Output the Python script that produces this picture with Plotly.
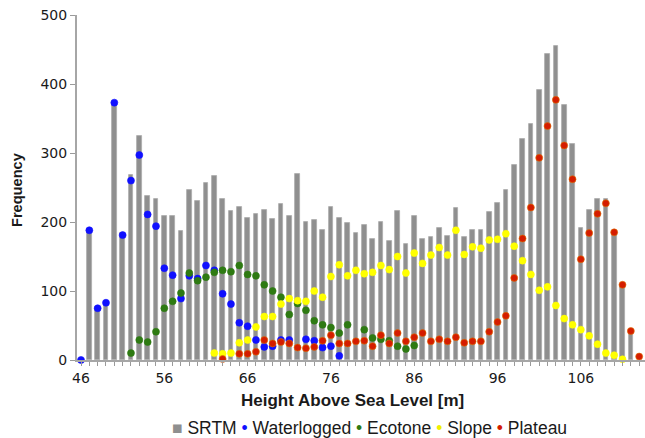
import plotly.graph_objects as go

# ---- data ----
heights = list(range(46, 114))

srtm = [None, 190, 77, 85, 372, 184, 268, 325, 237, 234,
        209, 209, 187, 247, 231, 256, 266, 234, 216, 222,
        206, 211, 217, 204, 226, 209, 270, 200, 203, 188,
        222, 206, 198, 184, 196, 176, 200, 173, 216, 168,
        208, 176, 178, 192, 180, 220, 178, 188, 188, 214,
        228, 246, 283, 320, 342, 392, 443, 455, 370, 313,
        192, 217, 234, 234, 186, 109, 42, None]

waterlogged = [0, 188, 75, 83, 373, 181, 260, 297, 211, 194,
               133, 123, 89, 122, 118, 137, 130, 96, 81, 54,
               49, 29, 19, 20, 29, 29, None, 30, 28, 18,
               20, 6] + [None] * 36

ecotone = [None] * 6 + [10, 29, 26, 41,
           75, 85, 97, 126, 115, 120, 127, 130, 128, 137,
           124, 122, 109, 100, 91, 66, 82, 72, 57, 51,
           47, 39, 51, None, 44, 32, 30, 28, 20, 16,
           21] + [None] * 27

slope = [None] * 16 + [10, 9, 10, 25,
         29, 48, 63, 63, 81, 89, 86, 85, 100, 91,
         121, 138, 122, 130, 125, 127, 137, 131, 150, 126,
         155, 140, 152, 163, 152, 188, 153, 164, 162, 174,
         175, 183, 165, 144, 124, 101, 106, 79, 60, 51,
         44, 35, 23, 10, 7, 1, None, None]

plateau = [None] * 17 + [1.5, None, 9,
           9, 12, 29, 24, 26, 24, 18, 17, 19, 28,
           36, 24, 24, 27, 28, 20, 36, 24, 39, 27,
           33, 39, 27, 30, 27, 33, 25, 27, 27, 41,
           55, 64, 119, 176, 221, 293, 339, 377, 311, 262,
           146, 184, 212, 227, 185, 109, 42, 5]

tick_labels = [str(h) if (h - 46) % 10 == 0 else "" for h in heights]

series = [
    ("Waterlogged", waterlogged, "#1010ff"),
    ("Ecotone", ecotone, "#2e7a12"),
    ("Slope", slope, "#ffff00"),
    ("Plateau", plateau, "#d41c00"),
]

fig = go.Figure()
fig.add_trace(go.Bar(x=heights, y=srtm, name="SRTM", width=0.56,
                     marker=dict(color="#8f8f8f", line=dict(color="#ababab", width=0.8)),
                     showlegend=False))
for name, vals, col in series:
    fig.add_trace(go.Scatter(x=heights, y=vals, name=name, mode="markers",
                             marker=dict(color=col, size=7,
                                         line=dict(width=0.6, color="#e07000" if name == "Plateau" else col)),
                             cliponaxis=False, showlegend=False))

tickfont = dict(family="DejaVu Sans, sans-serif", size=14, color="#1a1a1a")

fig.update_layout(
    width=645, height=438,
    margin=dict(l=77, r=0, t=15, b=78),
    plot_bgcolor="white", paper_bgcolor="white",
    bargap=0,
    xaxis=dict(range=[45.52, 113.7], tickmode="array", tickvals=heights, ticktext=tick_labels,
               ticks="outside", ticklen=4, tickcolor="#9a9a9a", tickwidth=1,
               showline=True, linecolor="#a6a6a6", linewidth=1.5,
               showgrid=False, zeroline=False, tickfont=tickfont, ticklabelstandoff=0),
    yaxis=dict(range=[0, 500], tickmode="array", tickvals=[0, 100, 200, 300, 400, 500],
               ticks="outside", ticklen=5, tickcolor="#9a9a9a", tickwidth=1,
               showline=True, linecolor="#a6a6a6", linewidth=2,
               showgrid=False, zeroline=False, tickfont=tickfont),
    font=dict(family="Liberation Sans, Arial, sans-serif", color="#1a1a1a"),
)

legend_text = ('<span style="color:#8f8f8f">■</span> SRTM '
               '<span style="color:#1010ff">•</span> Waterlogged '
               '<span style="color:#2e7a12">•</span> Ecotone '
               '<span style="color:#f0f000">•</span> Slope '
               '<span style="color:#d41c00">•</span> Plateau')

fig.add_annotation(text="<b>Height Above Sea Level [m]</b>", xref="paper", yref="paper",
                   x=(352 - 77) / 568, y=(360 - 400) / 345, xanchor="center", yanchor="middle",
                   showarrow=False, font=dict(size=17, color="#1a1a1a"))
fig.add_annotation(text="<b>Frequency</b>", xref="paper", yref="paper",
                   x=(17 - 77) / 568, y=(360 - 190) / 345, xanchor="center", yanchor="middle",
                   textangle=-90, showarrow=False, font=dict(size=14.6, color="#1a1a1a"))
fig.add_annotation(text=legend_text, xref="paper", yref="paper",
                   x=(369 - 77) / 568, y=(360 - 428) / 345, xanchor="center", yanchor="middle",
                   showarrow=False, font=dict(size=17.5, color="#1a1a1a"))

fig.write_html("out.html")
